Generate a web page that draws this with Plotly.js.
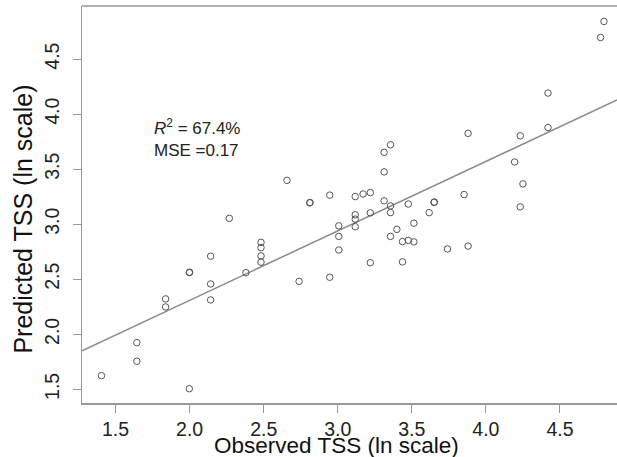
<!DOCTYPE html>
<html>
<head>
<meta charset="utf-8">
<script src="https://cdn.plot.ly/plotly-3.0.1.min.js"></script>
<style>
  html, body { margin: 0; padding: 0; background: #ffffff; overflow: hidden; }
  #chart { width: 617px; height: 457px; }
</style>
</head>
<body>
<div id="chart"></div>
<script>
// Observed vs predicted TSS (ln scale)
const observedTSS = [
  1.405, 1.644, 1.644, 1.838, 1.838, 1.998, 2.000, 1.998, 2.142, 2.142,
  2.142, 2.268, 2.380, 2.482, 2.482, 2.482, 2.482, 2.657, 2.739, 2.811,
  2.813, 2.946, 2.946, 3.007, 3.007, 3.007, 3.118, 3.118, 3.118, 3.118,
  3.171, 3.220, 3.220, 3.220, 3.313, 3.313, 3.313, 3.356, 3.356, 3.356,
  3.356, 3.399, 3.437, 3.437, 3.476, 3.476, 3.514, 3.514, 3.617, 3.650,
  3.652, 3.741, 3.853, 3.880, 3.880, 4.194, 4.232, 4.232, 4.250, 4.419,
  4.419, 4.774, 4.797
];
const predictedTSS = [
  1.624, 1.924, 1.755, 2.321, 2.248, 2.560, 2.563, 1.505, 2.709, 2.457,
  2.312, 3.053, 2.560, 2.835, 2.787, 2.712, 2.655, 3.398, 2.480, 3.194,
  3.197, 3.264, 2.518, 2.985, 2.889, 2.766, 3.251, 3.085, 3.046, 2.977,
  3.274, 3.287, 3.103, 2.650, 3.653, 3.475, 3.212, 3.721, 3.166, 3.105,
  2.889, 2.953, 2.842, 2.657, 3.183, 2.853, 3.009, 2.839, 3.105, 3.198,
  3.201, 2.775, 3.269, 3.825, 2.801, 3.565, 3.803, 3.157, 3.366, 4.191,
  3.878, 4.696, 4.842
];
const xTickVals = [1.5, 2.0, 2.5, 3.0, 3.5, 4.0, 4.5];
const xTickText = ['1.5', '2.0', '2.5', '3.0', '3.5', '4.0', '4.5'];
const yTickVals = [1.5, 2.0, 2.5, 3.0, 3.5, 4.0, 4.5];
const yTickText = ['1.5', '2.0', '2.5', '3.0', '3.5', '4.0', '4.5'];
const xTitle = 'Observed TSS (ln scale)';
const yTitle = 'Predicted TSS (ln scale)';
const fitIntercept = 1.046;
const fitSlope = 0.631;
const statsLines = ['<i>R</i><sup>2</sup> = 67.4%', 'MSE =0.17'];

const xRange = [1.2736, 4.885];
const yRange = [1.3755, 4.982];

const FONT = 'Liberation Sans, Arial, Helvetica, sans-serif';

const points = {
  type: 'scatter', mode: 'markers',
  x: observedTSS, y: predictedTSS,
  marker: { symbol: 'circle-open', size: 6.5, color: '#555555', line: { width: 1, color: '#555555' } },
  hoverinfo: 'x+y', showlegend: false
};
const fitLine = {
  type: 'scatter', mode: 'lines',
  x: xRange, y: xRange.map(v => fitIntercept + fitSlope * v),
  line: { color: '#8a8a8a', width: 1.5 },
  hoverinfo: 'skip', showlegend: false
};

const layout = {
  width: 617, height: 457,
  margin: { l: 82, r: 0, t: 6, b: 54 },
  paper_bgcolor: '#ffffff', plot_bgcolor: '#ffffff',
  font: { family: FONT, color: '#222222' },
  xaxis: {
    range: xRange, tickmode: 'array', tickvals: xTickVals, ticktext: xTickText,
    ticks: 'outside', ticklen: 8, tickcolor: '#999999', tickwidth: 1,
    showline: true, linecolor: '#999999', linewidth: 1.5,
    showgrid: false, zeroline: false,
    tickfont: { family: FONT, size: 19.5, color: '#222222' }
  },
  yaxis: {
    range: yRange, tickmode: 'array', tickvals: yTickVals, ticktext: yTickText,
    tickangle: -90,
    ticks: 'outside', ticklen: 8, tickcolor: '#999999', tickwidth: 1,
    ticklabelstandoff: 6,
    showline: true, linecolor: '#999999', linewidth: 1.5,
    showgrid: false, zeroline: false,
    tickfont: { family: FONT, size: 19.5, color: '#222222' }
  },
  shapes: [{
    type: 'line', xref: 'paper', yref: 'paper', x0: 0, x1: 1, y0: 1, y1: 1,
    line: { color: '#999999', width: 1.5 }
  }],
  annotations: [
    {
      xref: 'paper', yref: 'paper', x: 0.131, y: 0.728,
      xanchor: 'left', yanchor: 'top', align: 'left', showarrow: false,
      text: statsLines.join('<br>'),
      font: { family: FONT, size: 17, color: '#222222' }
    },
    {
      xref: 'paper', yref: 'paper', x: 0.4748, y: -0.106,
      xanchor: 'center', yanchor: 'middle', showarrow: false,
      text: xTitle,
      font: { family: FONT, size: 22.5, color: '#111111' }
    },
    {
      xref: 'paper', yref: 'paper', x: -0.111, y: 0.4635,
      xanchor: 'center', yanchor: 'middle', showarrow: false, textangle: -90,
      text: yTitle,
      font: { family: FONT, size: 25, color: '#111111' }
    }
  ]
};

Plotly.newPlot('chart', [fitLine, points], layout, { staticPlot: true, displayModeBar: false });
</script>
</body>
</html>
